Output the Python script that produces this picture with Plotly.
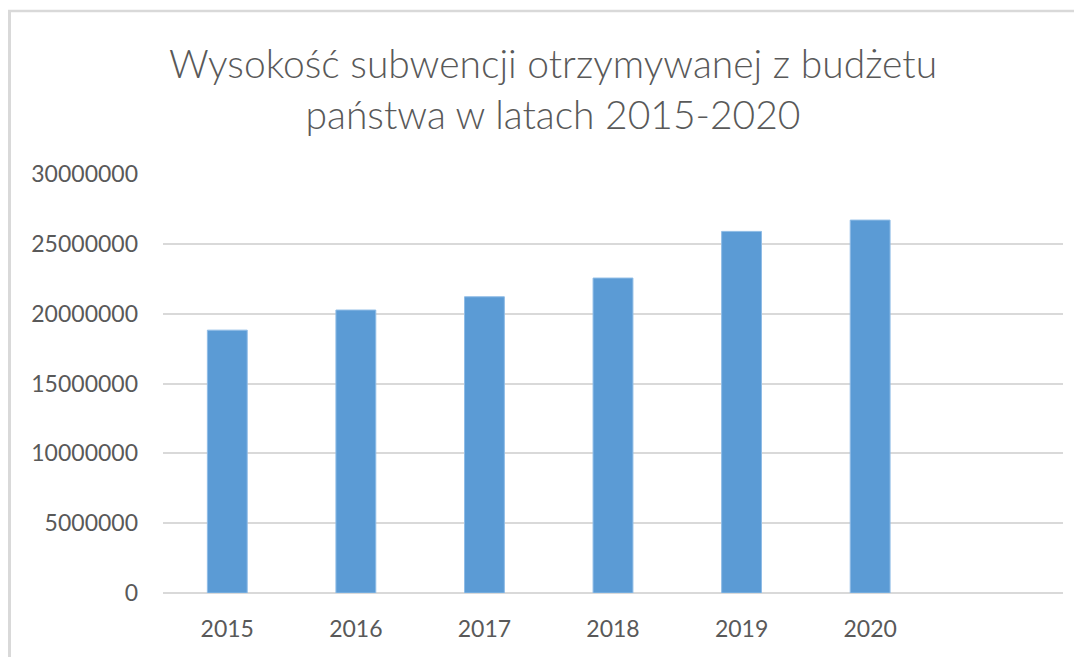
import plotly.graph_objects as go

years = ["2015", "2016", "2017", "2018", "2019", "2020"]
subvention = [18820000, 20260000, 21210000, 22550000, 25890000, 26700000]
y_ticks = [0, 5000000, 10000000, 15000000, 20000000, 25000000, 30000000]
y_tick_labels = [str(v) for v in y_ticks]

# page body has an 8px margin: figure origin sits at (8, 8) of the window
OFF = 8
W, H = 1082 - OFF, 657 - OFF
L, R, T, B = 163 - OFF, 19, 174 - OFF, 64
pw, ph = W - L - R, H - T - B

def px_x(x):
    return (x - OFF - L) / pw

def px_y(y):
    return (H - B - (y - OFF)) / ph

fig = go.Figure(
    go.Bar(
        x=years,
        y=subvention,
        marker=dict(color="#5B9BD5", line=dict(color="#8FBCE6", width=1)),
        hoverinfo="x+y",
    )
)

fig.update_layout(
    width=W,
    height=H,
    margin=dict(l=L, r=R, t=T, b=B, autoexpand=False),
    paper_bgcolor="white",
    plot_bgcolor="white",
    bargap=0.69,
    showlegend=False,
    font=dict(family="Lato, Open Sans, sans-serif", color="#595959"),
    title=dict(
        text="Wysokość subwencji otrzymywanej z budżetu<br>państwa w latach 2015-2020",
        x=px_x(553),
        xref="paper",
        xanchor="center",
        y=1 - (78 - OFF) / H,
        yanchor="middle",
        font=dict(size=39, color="#595959", family="Lato, Open Sans, sans-serif",
                  weight=300),
    ),
    xaxis=dict(
        type="category",
        categoryorder="array",
        categoryarray=years,
        range=[-0.5, 6.5],
        showgrid=False,
        showline=False,
        zeroline=False,
        ticks="",
        ticklabelstandoff=20,
        tickfont=dict(size=23, color="#595959"),
        fixedrange=True,
    ),
    yaxis=dict(
        range=[0, 30000000],
        tickvals=y_ticks,
        ticktext=y_tick_labels,
        showgrid=True,
        gridcolor="#D9D9D9",
        gridwidth=1.5,
        zeroline=True,
        zerolinecolor="#D9D9D9",
        zerolinewidth=1.5,
        showline=False,
        ticks="",
        ticklabelstandoff=24,
        tickfont=dict(size=23, color="#595959"),
        fixedrange=True,
    ),
    shapes=[
        dict(
            type="line", xref="paper", yref="paper",
            x0=px_x(9.5), x1=px_x(9.5), y0=px_y(10), y1=px_y(700),
            line=dict(color="#D9D9D9", width=3),
            layer="above",
        ),
        dict(
            type="line", xref="paper", yref="paper",
            x0=px_x(8), x1=px_x(1100), y0=px_y(11), y1=px_y(11),
            line=dict(color="#D9D9D9", width=2.5),
            layer="above",
        ),
    ],
)

fig.write_html("out.html")
